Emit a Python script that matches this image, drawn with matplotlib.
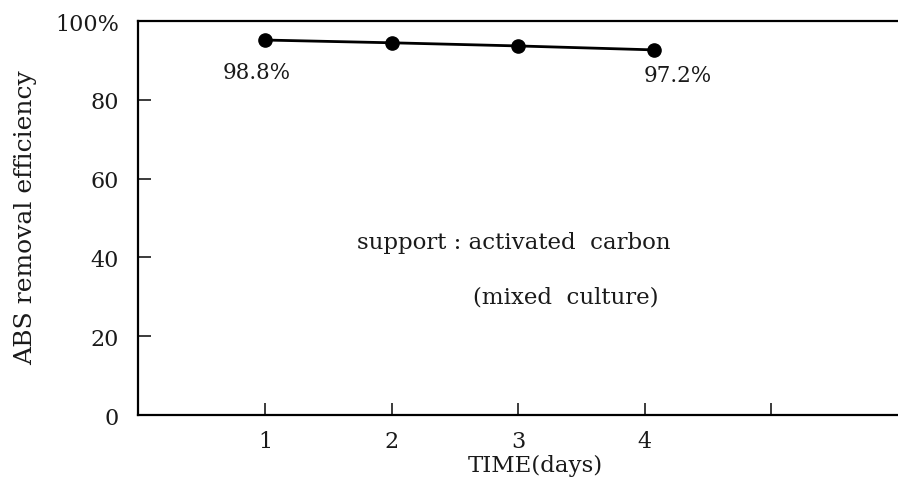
import matplotlib
matplotlib.use('Agg')
import matplotlib.pyplot as plt

# data
days = [1, 2, 3, 4.07]
removal = [95.2, 94.5, 93.7, 92.7]
xticks = [1, 2, 3, 4, 5]
xticklabels = ['1', '2', '3', '4', '']
yticks = [0, 20, 40, 60, 80, 100]
yticklabels = ['0', '20', '40', '60', '80', '100%']

plt.rcParams['font.family'] = 'DejaVu Serif'
ink = '#1a1a1a'

fig = plt.figure(figsize=(8.98, 4.81), dpi=100)
ax = fig.add_axes([0.1542, 0.135, 0.8458, 0.819])

ax.plot(days, removal, color='k', lw=2, marker='o', ms=9.5)

ax.set_xlim(0, 6)
ax.set_ylim(0, 100)
ax.set_xticks(xticks)
ax.set_xticklabels(xticklabels)
ax.set_yticks(yticks)
ax.set_yticklabels(yticklabels)
ax.tick_params(direction='in', length=9, width=1.2, labelsize=16, colors=ink)
ax.tick_params(axis='y', pad=14)
ax.tick_params(axis='x', pad=11)
ax.spines['right'].set_visible(False)
for s in ['left', 'bottom', 'top']:
    ax.spines[s].set_linewidth(1.6)

ax.text(0.93, 87.1, '98.8%', fontsize=15.5, ha='center', va='center', color=ink)
ax.text(4.26, 86.3, '97.2%', fontsize=15.5, ha='center', va='center', color=ink)
ax.text(1.73, 43.9, 'support : activated  carbon', fontsize=16.5, ha='left', va='center', color=ink)
ax.text(2.64, 30, '(mixed  culture)', fontsize=16.5, ha='left', va='center', color=ink)

ax.set_xlabel('TIME(days)', fontsize=16.5, color=ink, va='center')
ax.xaxis.set_label_coords(0.523, -0.127)
ax.set_ylabel('ABS removal efficiency', fontsize=18, color=ink, va='center')
ax.yaxis.set_label_coords(-0.149, 0.503)

fig.savefig('out.png', dpi=100)
